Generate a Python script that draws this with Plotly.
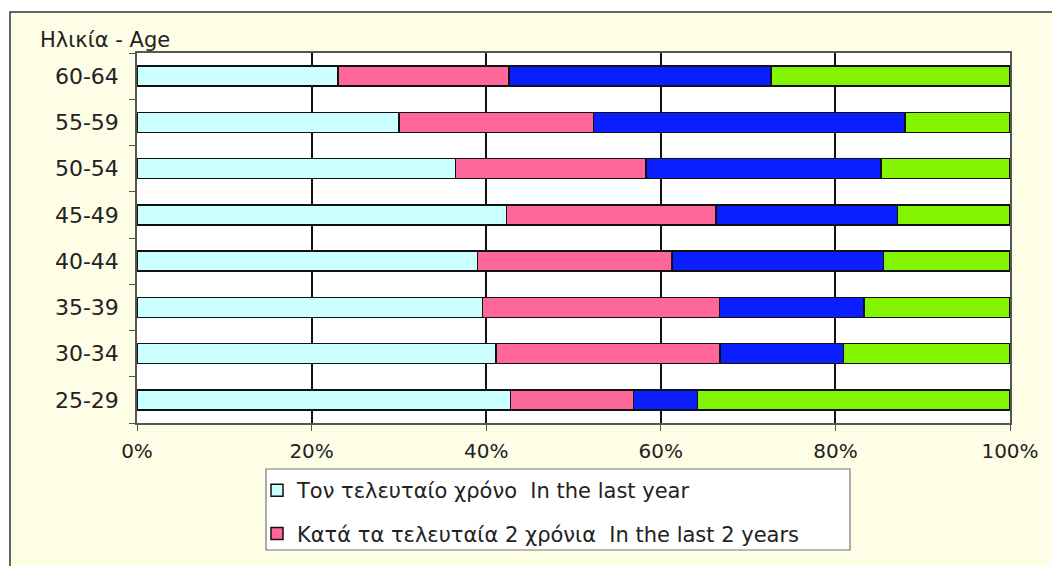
import plotly.graph_objects as go

# ηλικιακές ομάδες (από κάτω προς τα πάνω)
ages = ['25-29', '30-34', '35-39', '40-44', '45-49', '50-54', '55-59', '60-64']

# ποσοστά ανά κατηγορία (διαβασμένα από το γράφημα)
last_year = [42.8, 41.1, 39.6, 39.0, 42.3, 36.5, 30.0, 23.0]
last_2_years = [14.1, 25.7, 27.1, 22.3, 24.0, 21.8, 22.3, 19.6]
series_3 = [7.3, 14.1, 16.6, 24.2, 20.8, 26.9, 35.7, 30.0]
series_4 = [35.8, 19.1, 16.7, 14.5, 12.9, 14.8, 12.0, 27.4]

x_ticks = [0, 20, 40, 60, 80, 100]

series = [
    ('Τον τελευταίο χρόνο  In the last year', last_year, '#CCFFFF', True),
    ('Κατά τα τελευταία 2 χρόνια  In the last 2 years', last_2_years, '#FF6699', True),
    ('Σειρά 3', series_3, '#0A1EFF', False),
    ('Σειρά 4', series_4, '#84F500', False),
]

FONT = 'DejaVu Sans'
TXT = '#222222'

# η σελίδα έχει περιθώριο 8px στο body, οπότε μετατοπίζουμε τα πάντα
OFF = 8
W, H = 1060 - 2 * OFF, 576 - 2 * OFF - 2
# όρια περιοχής γραφήματος στη σελίδα (pixel)
L, R, T, B = 137 - OFF, 1010 - OFF, 53 - OFF, 423 - OFF


def px(x):
    return (x - OFF - L) / (R - L)


def py(y):
    return (B - (y - OFF)) / (B - T)


fig = go.Figure()

for i, (name, vals, color, show) in enumerate(series):
    fig.add_trace(go.Bar(
        y=ages,
        x=vals,
        orientation='h',
        name=name,
        legendgroup='g%d' % i,
        showlegend=show,
        width=0.43,
        marker=dict(color=color, line=dict(color='#111111', width=1.5)),
        hovertemplate='%{y}: %{x:.1f}%<extra>' + name + '</extra>'
    ))

# κρεμ φόντο με περίγραμμα, λευκή περιοχή γραφήματος, πλαίσιο υπομνήματος
fig.add_shape(type='rect', xref='paper', yref='paper', layer='below',
              x0=px(10), x1=px(1080), y0=py(600), y1=py(12),
              fillcolor='#FEFDE6', line=dict(color='#333333', width=1.5))
fig.add_shape(type='rect', xref='paper', yref='paper', layer='below',
              x0=0, x1=1, y0=0, y1=1,
              fillcolor='white', line=dict(width=0))
fig.add_shape(type='rect', xref='paper', yref='paper', layer='below',
              x0=px(266), x1=px(850), y0=py(550), y1=py(469),
              fillcolor='white', line=dict(color='#777777', width=1.2))

fig.add_annotation(text='Ηλικία - Age', xref='paper', yref='paper',
                   x=px(38), y=py(40), xanchor='left', yanchor='middle',
                   showarrow=False, font=dict(family=FONT, size=21, color=TXT))

fig.update_layout(
    width=W, height=H,
    margin=dict(l=L, r=W - R, t=T, b=H - B, autoexpand=False),
    barmode='stack',
    barnorm='percent',
    paper_bgcolor='white',
    plot_bgcolor='rgba(0,0,0,0)',
    font=dict(family=FONT, size=20, color=TXT),
    showlegend=True,
    legend=dict(
        x=px(257), y=py(470), xanchor='left', yanchor='top',
        bgcolor='rgba(0,0,0,0)', borderwidth=0,
        tracegroupgap=13,
        font=dict(family=FONT, size=21, color=TXT),
    ),
    xaxis=dict(
        range=[0, 100],
        tickvals=x_ticks,
        ticktext=['%d%%' % v for v in x_ticks],
        tickfont=dict(size=20),
        showgrid=True, gridcolor='#111111', gridwidth=1.5,
        zeroline=False,
        showline=True, linecolor='#555555', linewidth=1.5, mirror=True,
        ticks='outside', ticklen=6, tickcolor='#555555',
        ticklabelstandoff=3,
        fixedrange=True,
    ),
    yaxis=dict(
        type='category',
        categoryorder='array', categoryarray=ages,
        tickfont=dict(size=22),
        showgrid=False, zeroline=False,
        showline=True, linecolor='#555555', linewidth=1.5, mirror=True,
        ticks='outside', ticklen=6, tickcolor='#555555',
        tickson='boundaries',
        ticklabelstandoff=12,
        fixedrange=True,
    ),
)

fig.write_html('out.html')
